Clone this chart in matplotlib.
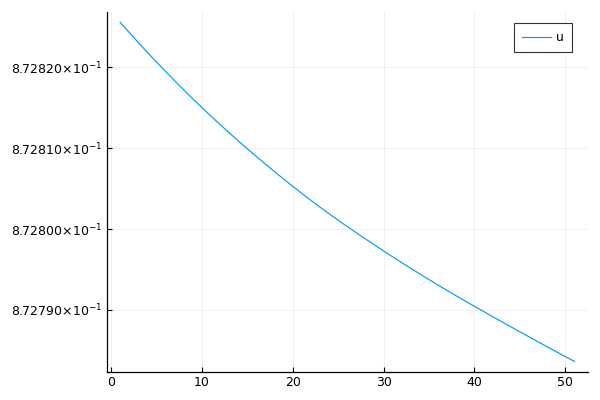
import numpy as np
import matplotlib
matplotlib.use("Agg")
import matplotlib.pyplot as plt
from matplotlib.ticker import FuncFormatter

# data
x = list(range(1, 52))
u = [
    0.87282561, 0.87282434, 0.87282309, 0.87282187, 0.87282068,
    0.87281951, 0.87281836, 0.87281723, 0.87281612, 0.87281504,
    0.87281398, 0.87281294, 0.87281192, 0.87281092, 0.87280994,
    0.87280898, 0.87280803, 0.87280710, 0.87280619, 0.87280529,
    0.87280441, 0.87280355, 0.87280271, 0.87280189, 0.87280109,
    0.87280031, 0.87279954, 0.87279878, 0.87279803, 0.87279729,
    0.87279656, 0.87279584, 0.87279513, 0.87279443, 0.87279374,
    0.87279306, 0.87279239, 0.87279173, 0.87279108, 0.87279044,
    0.87278980, 0.87278916, 0.87278853, 0.87278790, 0.87278728,
    0.87278666, 0.87278604, 0.87278543, 0.87278482, 0.87278421,
    0.87278361,
]
xticks = [0, 10, 20, 30, 40, 50]
yticks = [0.872790, 0.872800, 0.872810, 0.872820]

plt.rcParams.update({
    "font.family": "DejaVu Sans",
    "mathtext.fontset": "dejavusans",
    "font.size": 8.5,
})

fig = plt.figure(figsize=(6, 4), dpi=100)
ax = fig.add_axes([0.1775, 0.071, 0.8025, 0.899])

ax.plot(x, u, color="#009AFA", lw=0.85, label="u")

xmin, xmax = min(x), max(x)
ymin, ymax = min(u), max(u)
dx = (xmax - xmin) * 0.03
dy = (ymax - ymin) * 0.03
ax.set_xlim(xmin - dx, xmax + dx)
ax.set_ylim(ymin - dy, ymax + dy)

ax.set_xticks(xticks)
ax.set_yticks(yticks)


def fmt(v, pos):
    m = v * 10
    return r"$\mathdefault{%.5f{\times}10^{-1}}$" % m


ax.yaxis.set_major_formatter(FuncFormatter(fmt))
ax.tick_params(direction="in", length=3.5, width=0.8, color="black",
               labelsize=9, pad=3)
ax.grid(True, color="black", alpha=0.07, lw=0.6)
ax.spines["top"].set_visible(False)
ax.spines["right"].set_visible(False)
for s in ("left", "bottom"):
    ax.spines[s].set_linewidth(0.9)

leg = ax.legend(loc="upper right", fancybox=False, framealpha=1,
                edgecolor="#333333", fontsize=9, handlelength=2.3,
                borderpad=0.65, handletextpad=0.4, borderaxespad=0,
                bbox_to_anchor=(0.967, 0.969))
leg.get_frame().set_linewidth(0.8)

fig.savefig("out.png", dpi=100)
